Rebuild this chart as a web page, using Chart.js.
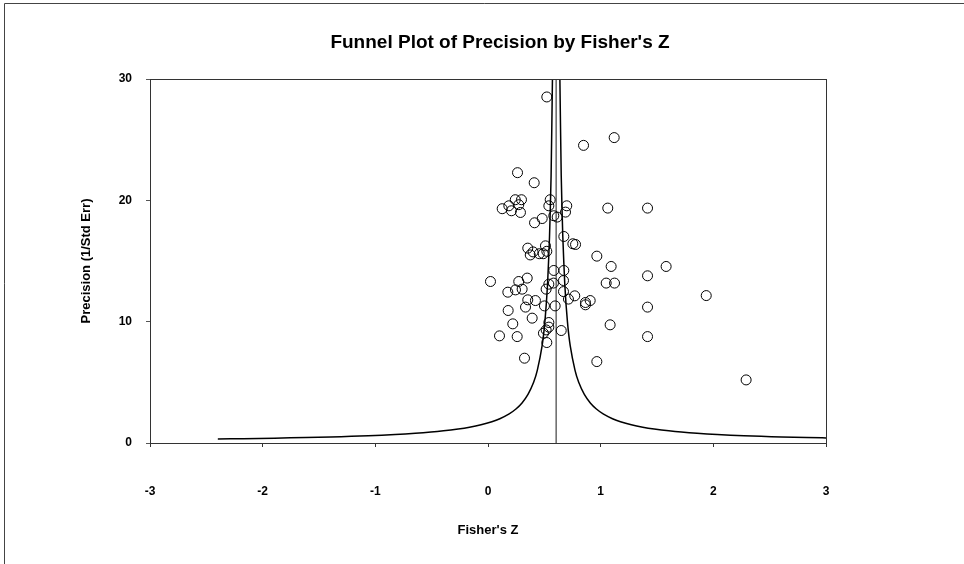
<!DOCTYPE html>
<html>
<head>
<meta charset="utf-8">
<script src="https://cdn.jsdelivr.net/npm/chart.js@4.4.1/dist/chart.umd.min.js"></script>
<style>
  html, body { margin: 0; padding: 0; background: #fff; }
  #wrap { width: 964px; height: 564px; position: relative; }
  canvas { display: block; }
</style>
</head>
<body>
<div id="wrap"><canvas id="c" width="964" height="564"></canvas></div>
<script>
// ---- data ----
const chartTitle = "Funnel Plot of Precision by Fisher's Z";
const xTitle = "Fisher's Z";
const yTitle = "Precision (1/Std Err)";

// study effect sizes (Fisher's Z) and precisions (1/SE)
const studyZ = [0.522, 0.848, 1.120, 0.262, 0.410, 0.242, 0.297, 0.273, 0.185, 0.126,
  0.208, 0.288, 0.552, 0.540, 0.584, 0.614, 0.699, 0.688, 0.481, 0.413,
  0.673, 0.753, 0.777, 0.966, 1.063, 1.416, 0.353, 0.400, 0.375, 0.455,
  0.510, 0.522, 0.490, 0.022, 0.273, 0.348, 0.176, 0.244, 0.303, 0.353,
  0.421, 0.333, 0.179, 0.392, 0.220, 0.102, 0.259, 0.324, 0.501, 0.596,
  0.516, 0.540, 0.581, 0.584, 0.673, 0.670, 0.670, 0.650, 0.540, 0.540,
  0.516, 0.492, 0.522, 0.714, 0.770, 0.865, 0.907, 0.865, 1.093, 1.049,
  1.123, 1.084, 0.966, 1.416, 1.416, 1.416, 1.581, 1.937, 2.291];
const studyPrecision = [28.52, 24.53, 25.17, 22.28, 21.45, 20.05, 20.05, 19.64, 19.55, 19.31,
  19.14, 19.00, 20.05, 19.55, 18.73, 18.62, 19.55, 19.03, 18.50, 18.15,
  17.02, 16.42, 16.36, 15.40, 19.36, 19.36, 16.06, 15.75, 15.50, 15.60,
  16.25, 15.80, 15.60, 13.31, 13.31, 13.59, 12.43, 12.62, 12.68, 11.80,
  11.74, 11.20, 10.92, 10.29, 9.82, 8.83, 8.77, 6.99, 11.30, 11.30,
  12.68, 13.09, 13.18, 14.22, 14.22, 13.39, 12.48, 9.27, 9.93, 9.55,
  9.32, 9.05, 8.28, 11.86, 12.13, 11.58, 11.74, 11.39, 14.55, 13.18,
  13.18, 9.74, 6.71, 13.78, 11.20, 8.77, 14.55, 12.15, 5.20];

// summary effect (centre line / diamond)
const summaryZ = 0.605;
const summaryRow = -1.07;   // diamond sits just below the axis

// funnel boundaries
const funnelPrecision = [0.333, 0.36, 0.4, 0.45, 0.5, 0.55, 0.6, 0.7, 0.8, 0.9, 1.0, 1.15, 1.3, 1.5,
  1.75, 2.0, 2.4, 2.8, 3.3, 4, 5, 6, 8, 10, 13, 17, 22, 30, 31];
const funnelLower = [-2.398, -2.173, -1.895, -1.617, -1.395, -1.213, -1.062, -0.824, -0.645, -0.506,
  -0.395, -0.265, -0.164, -0.062, 0.034, 0.105, 0.188, 0.248, 0.302, 0.355, 0.405, 0.438, 0.480,
  0.505, 0.528, 0.546, 0.560, 0.572, 0.573];
const funnelUpper = [3.608, 3.383, 3.105, 2.827, 2.605, 2.423, 2.272, 2.034, 1.855, 1.716,
  1.605, 1.475, 1.374, 1.272, 1.176, 1.105, 1.022, 0.962, 0.908, 0.855, 0.805, 0.772, 0.730,
  0.705, 0.682, 0.664, 0.650, 0.638, 0.637];

// axes
const xMin = -3, xMax = 3, xStep = 1;
const yMin = 0, yMax = 30, yStep = 10;

// ---- build datasets ----
const studyPoints = studyZ.map((z, i) => ({ x: z, y: studyPrecision[i] }));
const lowerPoints = funnelPrecision.map((p, i) => ({ x: funnelLower[i], y: p }));
const upperPoints = funnelPrecision.map((p, i) => ({ x: funnelUpper[i], y: p }));
const meanLine = [{ x: summaryZ, y: yMin }, { x: summaryZ, y: yMax }];

// narrow diamond marker
const diamond = document.createElement('canvas');
diamond.width = 6; diamond.height = 12;
(function () {
  const d = diamond.getContext('2d');
  d.strokeStyle = '#555';
  d.lineWidth = 1;
  d.beginPath();
  d.moveTo(3, 0.5); d.lineTo(5, 6); d.lineTo(3, 11.5); d.lineTo(1, 6); d.closePath();
  d.stroke();
})();

const FONT = 'Liberation Sans, Arial, Helvetica, sans-serif';

const framePlugin = {
  id: 'frame',
  afterDraw(chart) {
    const { ctx, chartArea: a } = chart;
    ctx.save();
    // plot box
    ctx.strokeStyle = '#333';
    ctx.lineWidth = 1;
    ctx.strokeRect(a.left + 0.5, a.top + 0.5, a.right - a.left, a.bottom - a.top);
    // page frame (top + left)
    ctx.strokeStyle = '#444';
    ctx.beginPath();
    ctx.moveTo(4.5, 564); ctx.lineTo(4.5, 3.5); ctx.lineTo(964, 3.5);
    ctx.stroke();
    // title
    ctx.fillStyle = '#000';
    ctx.font = 'bold 19px ' + FONT;
    ctx.textAlign = 'center';
    ctx.textBaseline = 'middle';
    ctx.fillText(chartTitle, 500, 43);
    ctx.restore();
  }
};

new Chart(document.getElementById('c'), {
  type: 'scatter',
  data: {
    datasets: [
      { label: 'Mean', data: meanLine, showLine: true, borderColor: '#666', borderWidth: 1.5,
        pointRadius: 0, fill: false, order: 3 },
      { label: 'Lower', data: lowerPoints, showLine: true, borderColor: '#000', borderWidth: 1.5,
        pointRadius: 0, fill: false, tension: 0.2, order: 2 },
      { label: 'Upper', data: upperPoints, showLine: true, borderColor: '#000', borderWidth: 1.5,
        pointRadius: 0, fill: false, tension: 0.2, order: 2 },
      { label: 'Studies', data: studyPoints, showLine: false, pointStyle: 'circle', pointRadius: 5,
        pointBorderColor: '#000', pointBackgroundColor: 'rgba(255,255,255,0)', pointBorderWidth: 1,
        borderColor: '#000', backgroundColor: 'rgba(255,255,255,0)', order: 1 },
      { label: 'Summary', data: [{ x: summaryZ, y: summaryRow }], showLine: false,
        pointStyle: diamond, clip: false, order: 0 }
    ]
  },
  options: {
    responsive: false,
    animation: false,
    devicePixelRatio: 1,
    layout: { padding: { left: 0, right: 138, top: 79, bottom: 0 } },
    plugins: { legend: { display: false }, tooltip: { enabled: false }, title: { display: false } },
    scales: {
      x: {
        type: 'linear', min: xMin, max: xMax,
        ticks: { stepSize: xStep, color: '#000', padding: 37,
          font: { family: FONT, size: 12, weight: 'bold' } },
        grid: { drawOnChartArea: false, tickLength: 4, color: '#333' },
        border: { color: '#333' },
        title: { display: true, text: xTitle, color: '#000',
          font: { family: FONT, size: 13, weight: 'bold' }, padding: { top: 0, bottom: 26 } },
        afterFit(s) { s.height = 121; }
      },
      y: {
        type: 'linear', min: yMin, max: yMax,
        ticks: { stepSize: yStep, color: '#000', padding: 14,
          font: { family: FONT, size: 12, weight: 'bold' } },
        grid: { drawOnChartArea: false, tickLength: 4, color: '#555' },
        border: { color: '#555' },
        title: { display: true, text: yTitle, color: '#000',
          font: { family: FONT, size: 13, weight: 'bold' }, padding: { top: 79, bottom: 0 } },
        afterFit(s) { s.width = 150; }
      }
    }
  },
  plugins: [framePlugin]
});
</script>
</body>
</html>
